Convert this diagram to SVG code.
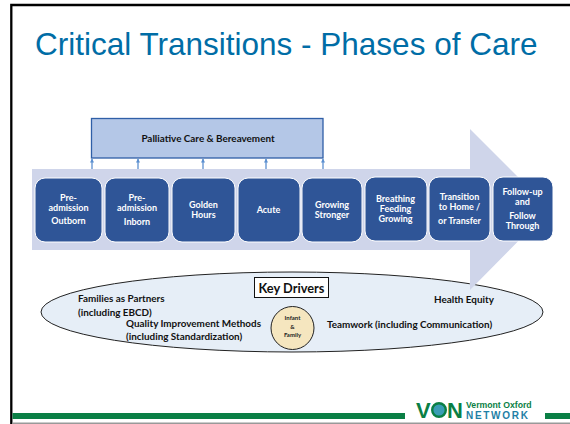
<svg xmlns="http://www.w3.org/2000/svg" width="570" height="424" viewBox="0 0 570 424">
<style>
.t{font-family:Lato,"Open Sans",sans-serif;font-weight:700;text-anchor:middle}
.b{fill:#2f5597;stroke:#fff;stroke-width:1}
.w{fill:#fff;font-size:9px}
.k{fill:#111;font-size:9.9px}
.l{text-anchor:start}
.up{stroke:#5b8fd0;stroke-width:1.300;fill:none;marker-end:url(#h)}
.logo{font-family:"Liberation Sans",Arial,sans-serif;font-weight:700}
</style>
<defs><marker id="h" markerWidth="5" markerHeight="5" refX="3.500" refY="2" orient="auto" markerUnits="userSpaceOnUse"><path d="M0 0L4 2L0 4Z" fill="#5b8fd0"/></marker></defs>
<rect width="570" height="424" fill="#fff"/>
<path d="M11.300 424V5H570" fill="none" stroke="#000" stroke-width="2.300"/>
<text x="35" y="55" font-family="Liberation Sans,Arial,sans-serif" font-size="31.500" fill="#006da6">Critical Transitions - Phases of Care</text>
<ellipse id="key-drivers-shape" cx="292" cy="312" rx="251" ry="40" fill="#e6eef7" stroke="#222" stroke-width="1"/>
<path id="flow-arrow" d="M32 169H470V129L550 209L470 290V250H32Z" fill="#cfd5ea"/>
<g id="palliative"><rect x="91.500" y="118.500" width="231.500" height="39.500" fill="#b4c7e7" stroke="#2f5fa7" stroke-width="1.300"/><text class="t k" x="208" y="142">Palliative Care &amp; Bereavement</text></g>
<g id="connectors">
<path class="up" d="M92 169V159"/><path class="up" d="M138 169V159"/><path class="up" d="M203 169V159"/><path class="up" d="M266 169V159"/><path class="up" d="M323 169V159"/>
</g>
<g id="n1"><rect class="b" x="35" y="178" width="67" height="64" rx="10"/><text class="t w" x="68.500" y="201">Pre-</text><text class="t w" x="68.500" y="211">admission</text><text class="t w" x="68.500" y="224">Outborn</text></g>
<g id="n2"><rect class="b" x="105" y="178" width="64" height="64" rx="10"/><text class="t w" x="137" y="201">Pre-</text><text class="t w" x="137" y="211">admission</text><text class="t w" x="137" y="225">Inborn</text></g>
<g id="n3"><rect class="b" x="172" y="178" width="63" height="64" rx="10"/><text class="t w" x="203.500" y="208">Golden</text><text class="t w" x="203.500" y="218">Hours</text></g>
<g id="n4"><rect class="b" x="238" y="178" width="62" height="64" rx="10"/><text class="t w" x="268.500" y="213">Acute</text></g>
<g id="n5"><rect class="b" x="302" y="178" width="60" height="64" rx="10"/><text class="t w" x="332" y="208">Growing</text><text class="t w" x="332" y="218">Stronger</text></g>
<g id="n6"><rect class="b" x="365" y="177" width="62" height="64" rx="10"/><text class="t w" x="395.500" y="202">Breathing</text><text class="t w" x="395.500" y="212">Feeding</text><text class="t w" x="395.500" y="222">Growing</text></g>
<g id="n7"><rect class="b" x="429" y="177" width="61" height="64" rx="10"/><text class="t w" x="459.500" y="200">Transition</text><text class="t w" x="459.500" y="210">to Home /</text><text class="t w" x="459.500" y="224">or Transfer</text></g>
<g id="n8"><rect class="b" x="493" y="177" width="60" height="64" rx="10"/><text class="t w" x="522.500" y="195">Follow-up</text><text class="t w" x="522.500" y="205">and</text><text class="t w" x="522.500" y="219">Follow</text><text class="t w" x="522.500" y="229">Through</text></g>
<g id="key-drivers-text">
<text class="t k l" x="78" y="302">Families as Partners</text><text class="t k l" x="78" y="316">(including EBCD)</text>
<text class="t k l" x="126" y="327">Quality Improvement Methods</text><text class="t k l" x="126" y="340">(including Standardization)</text>
<text class="t k l" x="434" y="303">Health Equity</text><text class="t k l" x="327" y="328">Teamwork (including Communication)</text></g>
<g id="key-drivers"><rect x="254.500" y="277.500" width="74" height="20" fill="#fff" stroke="#111" stroke-width="1"/><text class="t" x="291.500" y="292.500" font-size="12.800" fill="#111">Key Drivers</text></g>
<g id="infant-family"><circle cx="292.500" cy="328" r="21.500" fill="#f5e6bf" stroke="#222" stroke-width="1"/><g class="t" fill="#222" font-size="6"><text x="292.500" y="320">Infant</text><text x="292.500" y="329">&amp;</text><text x="292.500" y="337">Family</text></g></g>
<g id="footer"><rect x="12.500" y="413" width="392.500" height="6" fill="#0a7f45"/><rect x="545" y="413" width="25" height="6" fill="#0a7f45"/><rect x="12.500" y="422.500" width="557.500" height="1.500" fill="#999"/>
<text class="logo" x="416" y="418" font-size="22" fill="#0a7f45">V</text><circle cx="439" cy="410" r="6.800" fill="#3a9db5" stroke="#0a7f45" stroke-width="2.400"/><text class="logo" x="447" y="418" font-size="22" fill="#0a7f45">N</text>
<text class="logo" x="466" y="408" font-size="8.700" fill="#0a7f45">Vermont Oxford</text><text class="logo" x="466" y="418.500" font-size="10" letter-spacing="1.700" fill="#1f7fa6">NETWORK</text></g>
</svg>
